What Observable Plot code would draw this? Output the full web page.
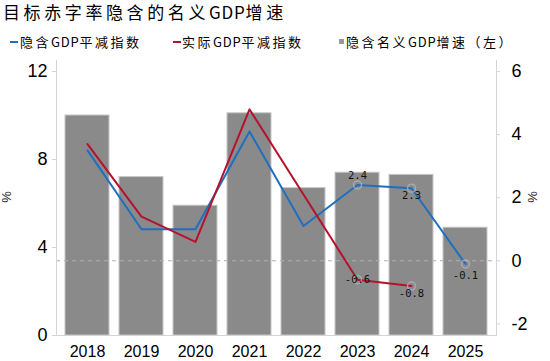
<!DOCTYPE html>
<html>
<head>
<meta charset="utf-8">
<script src="https://cdn.jsdelivr.net/npm/d3@7"></script>
<script src="https://cdn.jsdelivr.net/npm/@observablehq/plot@0.6"></script>
<style>
  html, body { margin: 0; padding: 0; background: #fff; }
  #wrap { position: relative; width: 550px; height: 361px; overflow: hidden; background: #fff; }
  #title { position: absolute; left: 3px; top: 0px; font-family: "Noto Sans CJK SC", sans-serif; font-size: 17px; line-height: 24px; letter-spacing: 3.6px; color: #000; white-space: nowrap; }
  .lg { position: absolute; top: 33px; font-family: "Noto Sans CJK SC", sans-serif; font-size: 13px; line-height: 18px; letter-spacing: 2.5px; color: #000; white-space: nowrap; }
  .lat { letter-spacing: 0.8px; }
  .sw { position: absolute; }
  .unit { position: absolute; font-family: "Liberation Sans", Arial, sans-serif; font-size: 13px; line-height: 14px; color: #222; transform: translate(-50%, -50%) rotate(-90deg); }
  #chart { position: absolute; left: 0; top: 56px; }
</style>
</head>
<body>
<div id="wrap">
  <div id="title"></div>
  <div id="legend"></div>
  <div id="chart"></div>
</div>
<script>
// ---- data ----
const titleText = "目标赤字率隐含的名义GDP增速";
const seriesNames = ["隐含GDP平减指数", "实际GDP平减指数", "隐含名义GDP增速（左）"];
const seriesColors = ["#1f6fc0", "#b5122e", "#8a8a8a"];
const unitLabel = "%";
const years = ["2018", "2019", "2020", "2021", "2022", "2023", "2024", "2025"];
const nominalGrowth = [10.0, 7.2, 5.9, 10.1, 6.7, 7.4, 7.3, 4.9];          // left axis
const impliedDeflator = [3.5, 1.0, 1.0, 4.1, 1.1, 2.4, 2.3, -0.1];        // right axis
const actualDeflator = [3.7, 1.4, 0.6, 4.8, 2.1, -0.6, -0.8, null];       // right axis
const leftTicks = [0, 4, 8, 12];
const rightTicks = [-2, 0, 2, 4, 6];
const leftDomain = [0, 12.5];
const rightDomain = [-2.37, 6.35];
// points that carry a value label: [series index, year]
const labeledPoints = [[0, "2023"], [0, "2024"], [0, "2025"], [1, "2023"], [1, "2024"]];

// ---- header ----
function fillMixed(el, text) {
  text.split(/([A-Za-z0-9]+)/).forEach(part => {
    if (!part) return;
    if (/^[A-Za-z0-9]+$/.test(part)) {
      const s = document.createElement("span");
      s.className = "lat";
      s.textContent = part;
      el.appendChild(s);
    } else {
      el.appendChild(document.createTextNode(part));
    }
  });
}
fillMixed(document.getElementById("title"), titleText);
const legend = document.getElementById("legend");
const legendX = [[10, 20], [173, 182], [339, 346]];
seriesNames.forEach((name, i) => {
  const sw = document.createElement("div");
  sw.className = "sw";
  if (i < 2) {
    Object.assign(sw.style, {left: legendX[i][0] + "px", top: "41px", width: "8px", height: "2px", background: seriesColors[i]});
  } else {
    Object.assign(sw.style, {left: legendX[i][0] + "px", top: "39px", width: "5px", height: "5px", background: "#9a9a9a"});
  }
  legend.appendChild(sw);
  const t = document.createElement("div");
  t.className = "lg";
  t.style.left = legendX[i][1] + "px";
  fillMixed(t, name);
  legend.appendChild(t);
});
[[7, 197], [533, 197]].forEach(([x, y]) => {
  const u = document.createElement("div");
  u.className = "unit";
  u.style.left = x + "px";
  u.style.top = y + "px";
  u.textContent = unitLabel;
  document.getElementById("wrap").appendChild(u);
});

// ---- chart ----
const toLeft = r => leftDomain[0] + (r - rightDomain[0]) * (leftDomain[1] - leftDomain[0]) / (rightDomain[1] - rightDomain[0]);
const toRight = l => rightDomain[0] + (l - leftDomain[0]) * (rightDomain[1] - rightDomain[0]) / (leftDomain[1] - leftDomain[0]);

const bars = years.map((y, i) => ({year: y, value: nominalGrowth[i]}));
const lineSeries = [impliedDeflator, actualDeflator];
const lineData = lineSeries.map(arr => years.map((y, i) => ({year: y, v: arr[i], yl: arr[i] == null ? NaN : toLeft(arr[i])})).filter(d => d.v != null));

const labelShift = {"0-2023": -9, "0-2024": 7, "0-2025": 12, "1-2023": 0, "1-2024": 8};
const labels = labeledPoints.map(([s, yr]) => {
  const v = lineSeries[s][years.indexOf(yr)];
  return {year: yr, yl: toLeft(v), text: v.toFixed(1), shift: labelShift[s + "-" + yr]};
});

const axisColor = "#d4d4d4";
const chart = Plot.plot({
  width: 550,
  height: 305,
  marginTop: 4,
  marginBottom: 26,
  marginLeft: 56,
  marginRight: 54,
  style: {fontFamily: "'Liberation Sans', Arial, sans-serif", background: "#fff", color: "#000", overflow: "visible"},
  x: {type: "band", domain: years, paddingInner: 0.18, paddingOuter: 0.12, label: null},
  y: {domain: leftDomain, label: null},
  marks: [
    Plot.barY(bars, {x: "year", y: "value", fill: "#8a8a8a", stroke: "#c6c6c6", strokeWidth: 1}),
    Plot.ruleY([toLeft(0)], {stroke: "#b0b0b0", strokeDasharray: "4,4", strokeWidth: 1}),
    Plot.line(lineData[0], {x: "year", y: "yl", stroke: seriesColors[0], strokeWidth: 2}),
    Plot.line(lineData[1], {x: "year", y: "yl", stroke: seriesColors[1], strokeWidth: 2}),
    Plot.dot(labels, {x: "year", y: "yl", r: 4, stroke: "#b8b8b8", strokeOpacity: 0.7, fill: "none"}),
    ...labels.map(d => Plot.text([d], {x: "year", y: "yl", text: "text", dy: d.shift, fontSize: 10.5, fontFamily: "'DejaVu Sans Mono', monospace", fill: "#111"})),
    Plot.frame({anchor: "left", stroke: axisColor}),
    Plot.frame({anchor: "right", stroke: axisColor}),
    Plot.frame({anchor: "bottom", stroke: axisColor}),
    Plot.axisX({tickSize: 0, tickPadding: 10, fontSize: 16, label: null}),
    Plot.axisY(leftTicks, {anchor: "left", tickSize: 4, tickPadding: 5, fontSize: 18, stroke: axisColor, fill: "#000", label: null}),
    Plot.axisY(rightTicks.map(toLeft), {anchor: "right", tickSize: 3, tickPadding: 12, fontSize: 18, stroke: axisColor, fill: "#000",
      tickFormat: d => String(Math.round(toRight(d))), label: null})
  ]
});
document.getElementById("chart").appendChild(chart);
</script>
</body>
</html>
